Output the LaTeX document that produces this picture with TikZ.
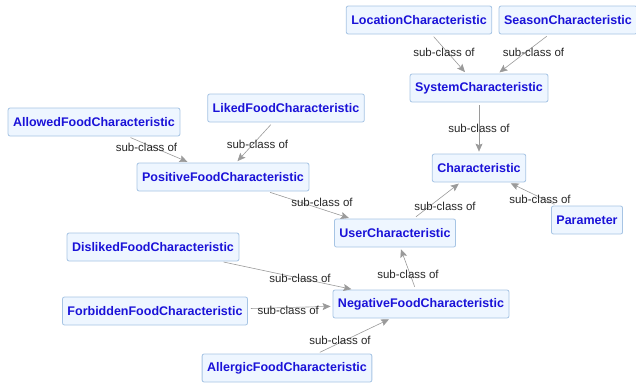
\documentclass[tikz,border=0pt]{standalone}
\usepackage{fontspec}
\setmainfont{Liberation Sans}
\usetikzlibrary{arrows.meta}

\definecolor{boxfill}{HTML}{EEF6FF}
\definecolor{boxline}{HTML}{A6C4E4}
\definecolor{boxtext}{HTML}{1A12D8}
\definecolor{linkgray}{HTML}{9A9A9A}

\begin{document}
\begin{tikzpicture}
[x=1pt,y=-1pt,->,>={Stealth[length=8pt,width=7pt,inset=1.5pt]},shorten >=2pt,shorten <=3pt,semithick]

  \tikzstyle{every node}=[font=\fontsize{11.5}{13}\selectfont]
  \tikzstyle{cls}=[draw=boxline,fill=boxfill,rounded corners=2pt,thick,
                   text=boxtext,font=\fontsize{12.5}{14}\selectfont\bfseries,
                   inner xsep=5pt,minimum height=28pt]
  \tikzstyle{subof}=[draw=linkgray,color=linkgray]
  \tikzstyle{lab}=[text=black!85]

  \useasboundingbox (0,0) rectangle (636,386);

  \node[cls] (loc)  at (419,20)  {LocationCharacteristic};
  \node[cls] (sea)  at (568,20)  {SeasonCharacteristic};
  \node[cls] (sys)  at (479,88)  {SystemCharacteristic};
  \node[cls] (all)  at (94,122)  {AllowedFoodCharacteristic};
  \node[cls] (lik)  at (286,108) {LikedFoodCharacteristic};
  \node[cls] (pos)  at (223,177) {PositiveFoodCharacteristic};
  \node[cls] (chr)  at (479,168) {Characteristic};
  \node[cls] (par)  at (587,220) {Parameter};
  \node[cls] (usr)  at (395,233) {UserCharacteristic};
  \node[cls] (dis)  at (153,247) {DislikedFoodCharacteristic};
  \node[cls] (neg)  at (421,304) {NegativeFoodCharacteristic};
  \node[cls] (frb)  at (155,311) {ForbiddenFoodCharacteristic};
  \node[cls] (alg)  at (287,368) {AllergicFoodCharacteristic};

  \path[subof]
        (loc) edge node[lab,xshift=-5pt,yshift=2pt]   {sub-class of} (sys)
        (sea) edge node[lab,xshift=10pt,yshift=2pt]   {sub-class of} (sys)
        (sys) edge node[lab]                          {sub-class of} (chr)
        (all) edge node[lab,xshift=-12pt,yshift=2pt]  {sub-class of} (pos)
        (lik) edge node[lab,xshift=3pt,yshift=-2pt]   {sub-class of} (pos)
        (pos) edge node[lab,xshift=13pt,yshift=3pt]   {sub-class of} (usr)
        (usr) edge node[lab,xshift=8pt,yshift=-6pt]   {sub-class of} (chr)
        (par) edge node[lab,xshift=7pt,yshift=-5pt]   {sub-class of} (chr)
        (neg) edge node[lab,yshift=-6pt]              {sub-class of} (usr)
        (dis) edge node[lab,xshift=13pt,yshift=-3pt]  {sub-class of} (neg)
        (frb) edge node[lab,xshift=-2pt,yshift=-3pt]  {sub-class of} (neg)
        (alg) edge node[lab,xshift=-14pt,yshift=-4pt] {sub-class of} (neg);
\end{tikzpicture}
\end{document}
